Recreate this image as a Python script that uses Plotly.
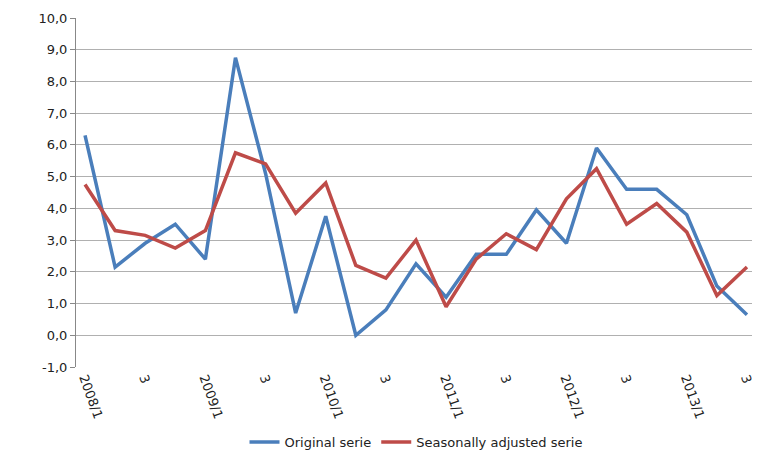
import plotly.graph_objects as go

quarters = [f"{y}/{q}" for y in range(2008, 2014) for q in range(1, 5)][:23]
original = [6.3, 2.15, 2.9, 3.5, 2.4, 8.75, 5.1, 0.7, 3.75, 0.0, 0.8, 2.25, 1.2, 2.55, 2.55, 3.95, 2.9, 5.9, 4.6, 4.6, 3.8, 1.55, 0.65]
adjusted = [4.75, 3.3, 3.15, 2.75, 3.3, 5.75, 5.4, 3.85, 4.8, 2.2, 1.8, 3.0, 0.9, 2.4, 3.2, 2.7, 4.3, 5.25, 3.5, 4.15, 3.25, 1.25, 2.15]
tick_text = [q if q.endswith("/1") else ("3" if q.endswith("/3") else "") for q in quarters]
y_ticks = [v for v in range(-1, 11)]
y_text = [f"{v},0" for v in y_ticks]

fig = go.Figure()
fig.add_trace(go.Scatter(x=quarters, y=original, mode="lines", name="Original serie",
                         line=dict(color="#4a7ebb", width=3.5)))
fig.add_trace(go.Scatter(x=quarters, y=adjusted, mode="lines", name="Seasonally adjusted serie",
                         line=dict(color="#be4b48", width=3.5)))
fig.update_layout(
    width=760, height=457, plot_bgcolor="white", paper_bgcolor="white",
    margin=dict(l=68, r=12, t=10, b=98, autoexpand=False),
    font=dict(family="DejaVu Sans", size=13, color="#222"),
    legend=dict(orientation="h", x=0.5, xanchor="center", y=-0.215, yanchor="middle", font=dict(size=13)),
    xaxis=dict(tickmode="array", tickvals=quarters, ticktext=tick_text, tickangle=70,
               showgrid=False, showline=False, zeroline=False, ticks="", range=[-0.3, 22.3],
               automargin=False),
    yaxis=dict(tickmode="array", tickvals=y_ticks, ticktext=y_text, range=[-1, 10],
               showgrid=True, gridcolor="#b0b0b0", gridwidth=1, zeroline=False, showline=True,
               linecolor="#888", ticks="outside", ticklen=5, tickcolor="#888", automargin=False),
)
fig.write_html("out.html")
